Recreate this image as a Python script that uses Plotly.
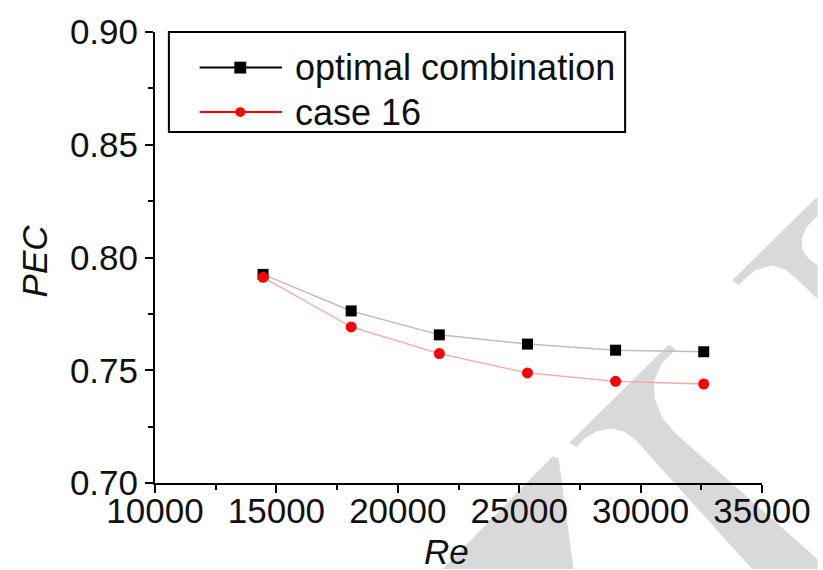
import plotly.graph_objects as go

# ---- data ----
re_values = [14450, 18080, 21710, 25340, 28970, 32600]
pec_optimal = [0.7925, 0.7763, 0.7657, 0.7616, 0.7589, 0.7582]
pec_case16 = [0.7912, 0.7692, 0.7574, 0.7488, 0.7451, 0.7439]
series_names = ["optimal combination", "case 16"]
x_ticks = [10000, 15000, 20000, 25000, 30000, 35000]
y_ticks = [0.70, 0.75, 0.80, 0.85, 0.90]

W, H = 823, 570
L, R, T, B = 155, 767, 27, 483  # plot area in pixels

def px(x):
    return (x - L) / (R - L)

def py(y):
    return (B - y) / (B - T)

def path(points):
    s = "M " + " L ".join(f"{px(x):.4f},{py(y):.4f}" for x, y in points) + " Z"
    return s

FONT = "Liberation Sans, Arial, sans-serif"

fig = go.Figure()
fig.add_trace(go.Scatter(
    x=re_values, y=pec_optimal, mode="lines+markers", name=series_names[0],
    line=dict(color="#bdbdbd", width=1.5),
    marker=dict(symbol="square", size=11, color="black"),
    showlegend=False, cliponaxis=False))
fig.add_trace(go.Scatter(
    x=re_values, y=pec_case16, mode="lines+markers", name=series_names[1],
    line=dict(color="#ffa3a3", width=1.3),
    marker=dict(symbol="circle", size=11, color="#ff0000"),
    showlegend=False, cliponaxis=False))

shapes = []
# watermark (light grey strokes behind the chart)
wm = "#d9d9d9"
wm_polys = [
    [(445, 570), (556, 456), (562, 458), (577, 570)],
    [(573, 442), (673, 343), (680, 348), (666, 362), (658, 380), (659, 398),
     (667, 418), (680, 433), (823, 560), (823, 570), (757, 570), (640, 440),
     (628, 431), (614, 428), (600, 431), (588, 438), (580, 447)],
    [(737, 278), (820, 196), (823, 194), (823, 213), (812, 224), (807, 236),
     (808, 248), (814, 256), (823, 263), (823, 297), (800, 275), (790, 267),
     (777, 263), (760, 268), (743, 283)],
]
for poly in wm_polys:
    shapes.append(dict(type="path", xref="paper", yref="paper", path=path(poly),
                       fillcolor=wm, line=dict(width=0), layer="below"))

# legend box (drawn manually to match the long sample lines)
shapes.append(dict(type="rect", xref="paper", yref="paper",
                   x0=px(169), x1=px(629), y0=py(128), y1=py(27),
                   line=dict(color="black", width=2), fillcolor="rgba(0,0,0,0)"))
shapes.append(dict(type="line", xref="paper", yref="paper",
                   x0=px(200), x1=px(283), y0=py(63), y1=py(63),
                   line=dict(color="black", width=2)))
shapes.append(dict(type="line", xref="paper", yref="paper",
                   x0=px(200), x1=px(283), y0=py(108), y1=py(108),
                   line=dict(color="#ff0000", width=2)))
shapes.append(dict(type="rect", xref="paper", yref="paper",
                   x0=px(235), x1=px(247), y0=py(69), y1=py(57),
                   fillcolor="black", line=dict(width=0)))
shapes.append(dict(type="circle", xref="paper", yref="paper",
                   x0=px(236), x1=px(246), y0=py(113), y1=py(103),
                   fillcolor="#ff0000", line=dict(width=0)))

annotations = [
    dict(xref="paper", yref="paper", x=px(294), y=py(63), text=series_names[0],
         showarrow=False, xanchor="left", yanchor="middle",
         font=dict(family=FONT, size=36, color="#111")),
    dict(xref="paper", yref="paper", x=px(294), y=py(108), text=series_names[1],
         showarrow=False, xanchor="left", yanchor="middle",
         font=dict(family=FONT, size=36, color="#111")),
    dict(xref="paper", yref="paper", x=px(449), y=py(552), text="<i>Re</i>",
         showarrow=False, xanchor="center", yanchor="middle",
         font=dict(family=FONT, size=35, color="#111")),
    dict(xref="paper", yref="paper", x=px(33), y=py(258), text="<i>PEC</i>",
         showarrow=False, xanchor="center", yanchor="middle", textangle=-90,
         font=dict(family=FONT, size=35, color="#111")),
]

axis_common = dict(
    showgrid=False, zeroline=False, showline=True, linecolor="black", linewidth=2,
    ticks="outside", ticklen=8, tickwidth=2, tickcolor="black",
    tickfont=dict(family=FONT, size=35, color="#111"),
)

fig.update_layout(
    width=W, height=H,
    margin=dict(l=L, r=W - R, t=T, b=H - B, pad=0),
    paper_bgcolor="white", plot_bgcolor="rgba(0,0,0,0)",
    xaxis=dict(range=[10000, 35000], tickvals=x_ticks,
               ticktext=[str(v) for v in x_ticks], ticklabelstandoff=-12,
               minor=dict(ticks="outside", ticklen=5, tickwidth=2, tickcolor="black", dtick=2500, showgrid=False),
               **axis_common),
    yaxis=dict(range=[0.70, 0.90], tickvals=y_ticks,
               ticktext=[f"{v:.2f}" for v in y_ticks],
               minor=dict(ticks="outside", ticklen=5, tickwidth=2, tickcolor="black", dtick=0.025, showgrid=False),
               **axis_common),
    shapes=shapes, annotations=annotations, showlegend=False,
)

fig.write_html("out.html", config={"displayModeBar": False},
               post_script="document.body.style.margin='0';")
